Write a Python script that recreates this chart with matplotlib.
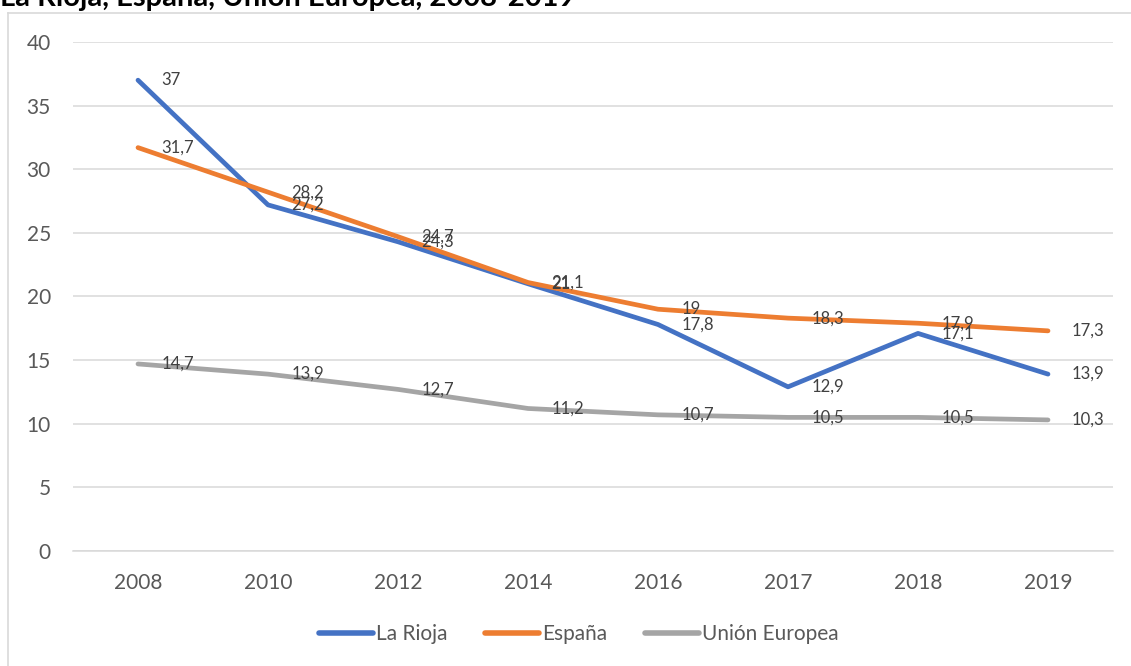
import matplotlib.pyplot as plt
from matplotlib.lines import Line2D
import numpy as np

plt.rcParams['font.family'] = ['Lato', 'DejaVu Sans']

### Datos
years = ['2008', '2010', '2012', '2014', '2016', '2017', '2018', '2019']
la_rioja = [37, 27.2, 24.3, 21, 17.8, 12.9, 17.1, 13.9]
espana = [31.7, 28.2, 24.7, 21.1, 19, 18.3, 17.9, 17.3]
ue = [14.7, 13.9, 12.7, 11.2, 10.7, 10.5, 10.5, 10.3]

series = [
    ('La Rioja', la_rioja, '#4472C4'),
    ('España', espana, '#ED7D31'),
    ('Unión Europea', ue, '#A5A5A5'),
]

def fmt(v):
    s = f'{v:g}'
    return s.replace('.', ',')

W, H = 1131, 666
fig = plt.figure(figsize=(W / 100, H / 100), dpi=100)

# marco del gráfico
fig.add_artist(Line2D([8 / W, 8 / W], [0, 1 - 13 / H], transform=fig.transFigure,
                      color='#D9D9D9', lw=1.2))
fig.add_artist(Line2D([8 / W, 1.0], [1 - 13 / H, 1 - 13 / H], transform=fig.transFigure,
                      color='#D9D9D9', lw=1.2))

# título (recortado arriba como en el original)
fig.text(0.0, 1 - 6 / H, 'La Rioja, España, Unión Europea, 2008-2019',
         fontsize=21, fontweight='bold', color='black', va='baseline', ha='left')

ax = fig.add_axes([73 / W, 1 - 551 / H, (1113 - 73) / W, (551 - 42) / H])
x = np.arange(len(years))

for name, vals, col in series:
    ax.plot(x, vals, color=col, lw=3.4, solid_capstyle='round',
            solid_joinstyle='round', label=name, zorder=3)
    for xi, v in zip(x, vals):
        ax.annotate(fmt(v), (xi, v), xytext=(17, 0), textcoords='offset points',
                    ha='left', va='center', fontsize=12, color='#404040', zorder=4)

ax.set_xlim(-0.5, len(years) - 0.5)
ax.set_ylim(0, 40)
ax.set_yticks(range(0, 41, 5))
ax.set_xticks(x)
ax.set_xticklabels(years)
ax.grid(axis='y', color='#D9D9D9', lw=1.1, zorder=0)
ax.set_axisbelow(True)
for s in ['top', 'right', 'left']:
    ax.spines[s].set_visible(False)
ax.spines['bottom'].set_color('#D9D9D9')
ax.spines['bottom'].set_linewidth(1.1)
ax.tick_params(axis='both', length=0, labelsize=15, labelcolor='#595959')
ax.tick_params(axis='y', pad=16)
ax.tick_params(axis='x', pad=16)

leg = fig.legend(loc='center', bbox_to_anchor=(579 / W, 1 - 634 / H), ncol=3,
                 frameon=False, fontsize=15, handlelength=2.6, handletextpad=0.15,
                 columnspacing=1.8, labelcolor='#595959')
for h in leg.legend_handles:
    h.set_linewidth(4)
    h.set_solid_capstyle('round')

fig.savefig('out.png', dpi=100)
